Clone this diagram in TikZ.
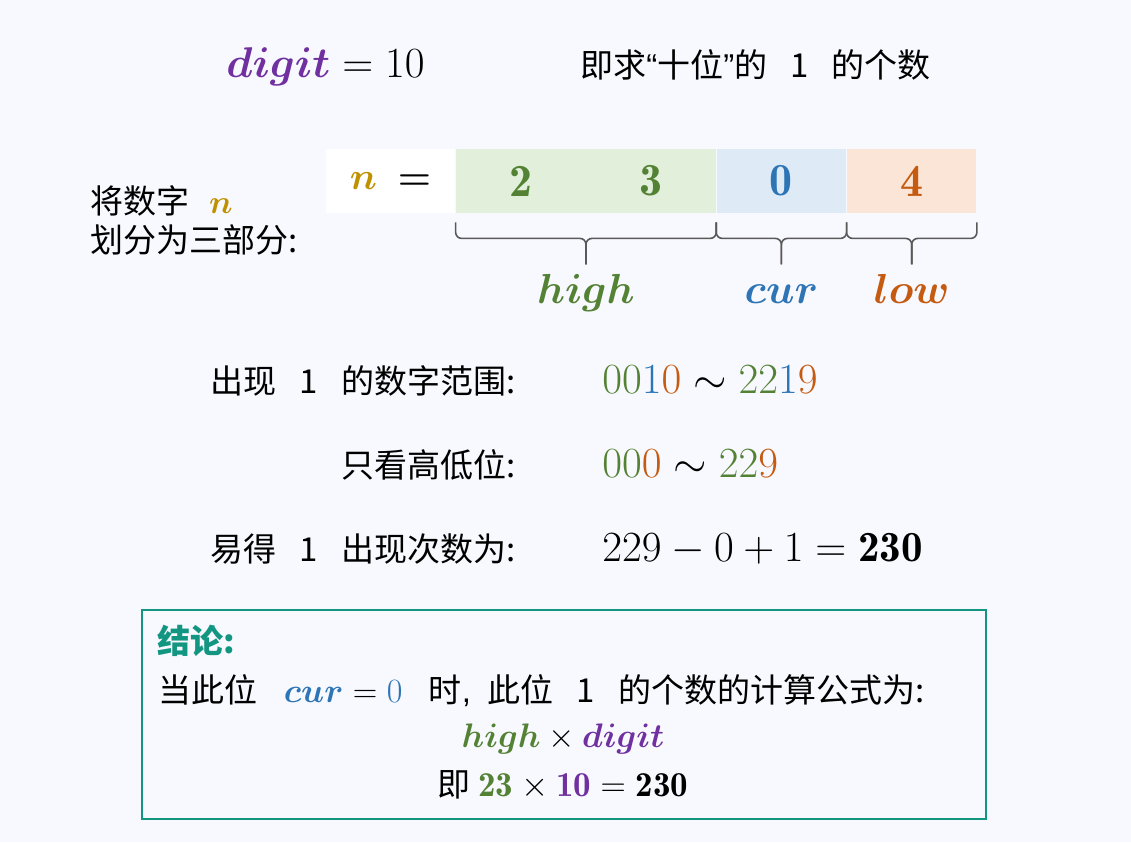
\RequirePackage{fix-cm}
\documentclass[tikz,border=0pt]{standalone}
\usepackage{amsmath,amssymb,bm}
\usepackage{fontspec}
\newfontfamily\cjk{Noto Sans CJK SC}
\newfontfamily\lat{Liberation Sans}
\usetikzlibrary{positioning,calc}
\definecolor{pagebg}{RGB}{248,249,254}
\definecolor{cdig}{RGB}{112,48,160}
\definecolor{cn}{RGB}{191,144,0}
\definecolor{chigh}{RGB}{84,130,53}
\definecolor{ccur}{RGB}{46,117,182}
\definecolor{clow}{RGB}{197,90,17}
\definecolor{fhigh}{RGB}{226,239,218}
\definecolor{fcur}{RGB}{222,235,247}
\definecolor{flow}{RGB}{251,229,214}
\definecolor{cteal}{RGB}{18,150,130}
\definecolor{cbrace}{RGB}{89,89,89}
\tikzset{
  zh/.style={font=\fontsize{16.5}{19}\selectfont\cjk, inner sep=0pt, anchor=base west},
  mth/.style={font=\fontsize{21.5}{25}\selectfont, inner sep=0pt, anchor=base west},
  cell/.style={minimum width=64.75pt, minimum height=32pt, inner sep=0pt,
               font=\fontsize{23}{25}\selectfont},
  brc/.style={cbrace, line width=0.8pt, rounded corners=3pt},
  part/.style={font=\fontsize{21}{24}\selectfont, inner sep=0pt, anchor=base},
  concl/.style={draw=cteal, line width=1pt, inner sep=0pt},
}

\begin{document}
\begin{tikzpicture}[x=0.5pt, y=-0.5pt]
  \fill[pagebg] (0,0) rectangle (1131,842);
  \useasboundingbox (0,0) rectangle (1131,842);

  % top line
  \node[mth] (dig) at (226,77) {${\color{cdig}\bm{digit}} = 10$};
  \node[zh] (ask) at (580,77) {即求{\lat “}十位{\lat ”}的\hspace{0.7em}1\hspace{0.7em}的个数};

  % split of n
  \node[zh] (split1) at (90,213) {将数字\hspace{0.6em}${\color{cn}\bm{n}}$};
  \node[zh] (split2) at (90,252) {划分为三部分:};
  \node[cell, fill=white, font=\fontsize{19}{22}\selectfont] (ncell) at (390.5,181) {${\color{cn}\bm{n}}\;\bm{=}$};
  \node[cell, fill=fhigh, text=chigh, right=0pt of ncell] (d2) {$\mathbf{2}$};
  \node[cell, fill=fhigh, text=chigh, right=0pt of d2] (d3) {$\mathbf{3}$};
  \node[cell, fill=fcur, text=ccur, right=0pt of d3] (d0) {$\mathbf{0}$};
  \node[cell, fill=flow, text=clow, right=0pt of d0] (d4) {$\mathbf{4}$};

  % braces
  \draw[brc] ($(d2.south west)+(0,9)$) |- ($(d2.south east)+(0,25)$) -- ($(d2.south east)+(0,51)$);
  \draw[brc] ($(d3.south east)+(0,9)$) |- ($(d2.south east)+(0,25)$) -- ($(d2.south east)+(0,51)$);
  \draw[brc] ($(d0.south west)+(0,9)$) |- ($(d0.south)+(0,25)$) -- ($(d0.south)+(0,51)$);
  \draw[brc] ($(d0.south east)+(0,9)$) |- ($(d0.south)+(0,25)$) -- ($(d0.south)+(0,51)$);
  \draw[brc] ($(d4.south west)+(0,9)$) |- ($(d4.south)+(0,25)$) -- ($(d4.south)+(0,51)$);
  \draw[brc] ($(d4.south east)+(0,9)$) |- ($(d4.south)+(0,25)$) -- ($(d4.south)+(0,51)$);
  \node[part, text=chigh] (lhigh) at ($(d2.south east)+(0,90)$) {$\bm{high}$};
  \node[part, text=ccur] (lcur) at ($(d0.south)+(0,90)$) {$\bm{cur}$};
  \node[part, text=clow] (llow) at ($(d4.south)+(0,90)$) {$\bm{low}$};

  % rows
  \node[zh, anchor=base east] (rng) at (516,393) {出现\hspace{0.7em}1\hspace{0.7em}的数字范围:};
  \node[mth] (rngv) at (602,393) {${\color{chigh}00}{\color{ccur}1}{\color{clow}0}\sim{\color{chigh}22}{\color{ccur}1}{\color{clow}9}$};
  \node[zh, anchor=base east] (hl) at (516,477) {只看高低位:};
  \node[mth] (hlv) at (602,477) {${\color{chigh}00}{\color{clow}0}\sim{\color{chigh}22}{\color{clow}9}$};
  \node[zh, anchor=base east] (cnt) at (516,561) {易得\hspace{0.7em}1\hspace{0.7em}出现次数为:};
  \node[mth] (cntv) at (602,561) {$229-0+1=\mathbf{230}$};

  % conclusion
  \node[concl, minimum width=422pt, minimum height=104.5pt, anchor=north west] (box) at (141,609) {};
  \node[zh, text=cteal, font=\fontsize{16.5}{19}\selectfont\cjk\bfseries] (ctitle) at (157,653) {结论:};
  \node[zh] (cline) at (158,702) {当此位\hspace{0.8em}{\fontsize{17}{20}\selectfont${\color{ccur}\bm{cur}}={\color{ccur}0}$}\hspace{0.8em}时{\lat ,}\hspace{0.5em}此位\hspace{0.7em}1\hspace{0.7em}的个数的计算公式为:};
  \node[mth, anchor=base, font=\fontsize{17}{20}\selectfont] (cform) at (563,747) {${\color{chigh}\bm{high}}\times{\color{cdig}\bm{digit}}$};
  \node[zh, anchor=base] (cres) at (563,796) {即 {\fontsize{17.5}{20}\selectfont${\color{chigh}\mathbf{23}}\times{\color{cdig}\mathbf{10}}=\mathbf{230}$}};
\end{tikzpicture}
\end{document}
